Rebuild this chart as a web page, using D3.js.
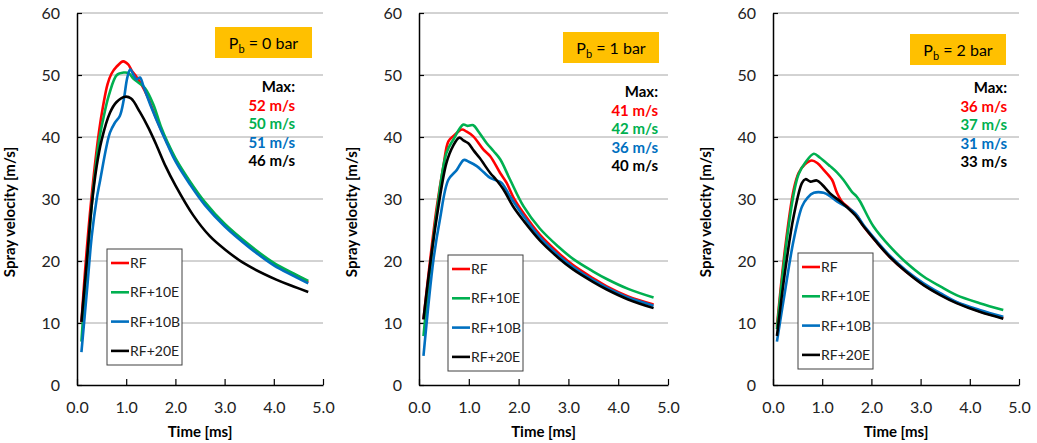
<!DOCTYPE html>
<html>
<head>
<meta charset="utf-8">
<script src="https://cdn.jsdelivr.net/npm/d3@7"></script>
<style>
  body { margin: 0; background: #fff; }
  svg { font-family: Lato, "Open Sans", sans-serif; }
</style>
</head>
<body>
<div id="chart"></div>
<script>
// series names + colours
const seriesNames = ["RF", "RF+10E", "RF+10B", "RF+20E"];
const seriesColors = ["#FF0000", "#00B050", "#0070C0", "#000000"];

const xTicks = [0, 1, 2, 3, 4, 5];
const yTicks = [0, 10, 20, 30, 40, 50, 60];

// Pb = 0 bar  [time ms, velocity m/s]
const p0_RF = [[0.09,10.1],[0.2,22],[0.33,33],[0.45,41],[0.53,45],[0.62,48.5],[0.7,50.2],[0.8,51.3],[0.94,52.2],[1.04,51.7],[1.12,50.6],[1.2,49.8],[1.3,48.6],[1.45,46.2],[1.6,43.2],[1.8,39.6],[2.0,36.4],[2.3,32.6],[2.6,29.3],[3.0,25.9],[3.5,22.4],[4.0,19.5],[4.4,17.9],[4.7,16.6]];
const p0_10E = [[0.09,7.0],[0.2,19.5],[0.33,31.5],[0.45,39.5],[0.53,42.8],[0.65,46.8],[0.81,50.0],[0.95,50.4],[1.05,50.3],[1.15,49.4],[1.28,48.6],[1.38,47.9],[1.55,45.3],[1.7,41.8],[1.85,39.0],[2.0,36.6],[2.3,32.8],[2.6,29.5],[3.0,26.0],[3.5,22.6],[4.0,19.7],[4.4,18.0],[4.7,16.8]];
const p0_10B = [[0.09,5.3],[0.2,15],[0.3,24],[0.4,30],[0.47,33],[0.6,38.5],[0.67,40.7],[0.77,42.3],[0.87,43.4],[0.95,46],[1.02,49.5],[1.08,50.9],[1.15,50.0],[1.21,49.3],[1.28,49.6],[1.35,48.2],[1.5,45.0],[1.7,41.2],[1.85,38.6],[2.0,36.1],[2.3,32.3],[2.6,29.0],[3.0,25.6],[3.5,22.2],[4.0,19.3],[4.4,17.6],[4.7,16.4]];
const p0_20E = [[0.09,10.2],[0.2,20],[0.3,29],[0.4,35.3],[0.5,39.5],[0.67,43.9],[0.8,45.6],[0.98,46.5],[1.1,46.2],[1.28,44.0],[1.45,41.5],[1.62,38.6],[1.8,35.3],[2.0,32.2],[2.36,27.4],[2.7,24.0],[3.0,21.9],[3.4,19.6],[4.05,17.0],[4.4,15.9],[4.7,15.0]];
const p0_max = ["52 m/s", "50 m/s", "51 m/s", "46 m/s"];

// Pb = 1 bar
const p1_RF = [[0.09,10.6],[0.2,18.5],[0.35,28.3],[0.49,35.3],[0.59,39.3],[0.7,40.2],[0.86,41.2],[0.95,40.9],[1.09,40.1],[1.29,38.0],[1.43,36.9],[1.63,34.2],[1.76,32.6],[1.9,30.2],[2.1,27.7],[2.43,24.2],[2.8,21.3],[3.1,19.3],[3.5,17.2],[3.77,15.9],[4.2,14.3],[4.71,13.0]];
const p1_10E = [[0.09,7.9],[0.2,17],[0.35,27.5],[0.55,37.4],[0.69,39.6],[0.89,42.0],[0.97,41.8],[1.09,41.9],[1.2,40.8],[1.36,39.0],[1.5,37.7],[1.63,36.4],[1.83,33.1],[2.1,28.8],[2.43,25.2],[2.8,22.3],[3.1,20.3],[3.5,18.3],[3.77,17.1],[4.2,15.5],[4.71,14.1]];
const p1_10B = [[0.09,4.7],[0.29,20.2],[0.42,26.7],[0.59,33.1],[0.76,34.7],[0.9,36.3],[1.0,36.0],[1.16,35.3],[1.3,34.3],[1.43,33.4],[1.55,33.0],[1.66,32.6],[1.83,30.4],[2.1,27.2],[2.43,23.8],[2.8,20.9],[3.1,19.0],[3.5,16.9],[3.77,15.7],[4.2,14.1],[4.71,12.8]];
const p1_20E = [[0.09,10.6],[0.2,18],[0.35,26.7],[0.55,35.8],[0.68,38.5],[0.81,39.9],[0.9,39.4],[0.99,39.0],[1.1,37.8],[1.22,36.6],[1.43,34.2],[1.55,33.1],[1.69,31.6],[1.89,28.8],[2.1,26.5],[2.43,23.3],[2.8,20.5],[3.1,18.6],[3.5,16.6],[3.77,15.4],[4.2,13.8],[4.71,12.4]];
const p1_max = ["41 m/s", "42 m/s", "36 m/s", "40 m/s"];

// Pb = 2 bar
const p2_RF = [[0.08,9.4],[0.25,22.3],[0.42,31.5],[0.52,34.2],[0.65,35.6],[0.79,36.2],[0.9,35.8],[1.03,34.7],[1.2,33.1],[1.3,31.0],[1.4,29.6],[1.55,28.5],[1.7,27.4],[1.84,25.6],[2.11,23.0],[2.38,20.6],[2.7,18.3],[3.06,16.2],[3.4,14.6],[3.73,13.3],[4.2,11.9],[4.68,10.8]];
const p2_10E = [[0.08,9.0],[0.25,21.5],[0.42,30.8],[0.52,34.0],[0.65,35.8],[0.83,37.3],[0.95,36.7],[1.16,35.3],[1.3,34.3],[1.43,33.1],[1.6,31.2],[1.7,30.4],[1.77,29.6],[2.04,25.6],[2.38,22.3],[2.7,19.8],[3.06,17.5],[3.4,15.9],[3.73,14.5],[4.2,13.2],[4.68,12.1]];
const p2_10B = [[0.08,7.0],[0.25,15.4],[0.42,23.4],[0.59,28.8],[0.7,30.2],[0.83,31.0],[1.03,31.0],[1.15,30.5],[1.3,29.6],[1.5,28.7],[1.67,27.7],[1.84,25.8],[2.11,23.2],[2.38,20.8],[2.7,18.5],[3.06,16.4],[3.4,14.8],[3.73,13.4],[4.2,12.1],[4.68,11.0]];
const p2_20E = [[0.08,7.9],[0.25,18.6],[0.42,27.2],[0.59,32.6],[0.66,33.2],[0.76,32.8],[0.89,33.0],[1.0,32.3],[1.16,30.9],[1.37,29.6],[1.5,28.7],[1.67,27.4],[1.84,25.6],[2.11,23.0],[2.38,20.6],[2.7,18.3],[3.06,16.1],[3.4,14.5],[3.73,13.2],[4.2,11.8],[4.68,10.7]];
const p2_max = ["36 m/s", "37 m/s", "31 m/s", "33 m/s"];

const panelPressure = ["0", "1", "2"];

// layout of each panel (pixels)
let panels = [
    { x0: 77,  x1: 323,  box: [215, 27, 97, 31],  maxX: 295,  maxY: 92, legend: [107, 249], series: [p0_RF, p0_10E, p0_10B, p0_20E], max: p0_max },
    { x0: 419, x1: 668,  box: [563, 32, 96, 31],  maxX: 658,  maxY: 97, legend: [448, 255], series: [p1_RF, p1_10E, p1_10B, p1_20E], max: p1_max },
    { x0: 773, x1: 1019, box: [910, 34, 96, 31],  maxX: 1007, maxY: 93, legend: [798, 253], series: [p2_RF, p2_10E, p2_10B, p2_20E], max: p2_max }
];

let width = 1037, height = 443;
let yTop = 13, yBottom = 385;

let svg = d3.select("#chart").append("svg")
    .attr("width", width)
    .attr("height", height);

panels.forEach((p, pi) => {
    let x = d3.scaleLinear().domain([0, 5]).range([p.x0, p.x1]);
    let y = d3.scaleLinear().domain([0, 60]).range([yBottom, yTop]);

    let g = svg.append("g");

    /* gridlines */
    g.append("g").selectAll("line")
        .data(yTicks.filter(d => d > 0)).enter()
        .append("line")
        .attr("x1", p.x0).attr("x2", p.x1)
        .attr("y1", d => y(d)).attr("y2", d => y(d))
        .attr("stroke", "#A6A6A6")
        .attr("stroke-width", 1);

    /* axes */
    let xAxis = d3.axisBottom(x).tickValues(xTicks).tickFormat(d3.format(".1f"))
        .tickSizeInner(-6).tickSizeOuter(0).tickPadding(17);
    let yAxis = d3.axisLeft(y).tickValues(yTicks)
        .tickSizeInner(-5).tickSizeOuter(0).tickPadding(17);

    let gx = g.append("g").attr("transform", `translate(0, ${yBottom})`).call(xAxis);
    let gy = g.append("g").attr("transform", `translate(${p.x0}, 0)`).call(yAxis);

    [gx, gy].forEach(a => {
        a.select(".domain").attr("stroke", "#000").attr("stroke-width", 1.5);
        a.selectAll(".tick line").attr("stroke", "#000").attr("stroke-width", 1.2);
        a.selectAll(".tick text").attr("font-size", 16).attr("fill", "#222")
            .attr("font-family", "Lato, 'Open Sans', sans-serif");
    });

    /* axis titles */
    g.append("text")
        .attr("transform", `translate(${p.x0 - 62}, 212) rotate(-90)`)
        .attr("text-anchor", "middle")
        .attr("font-size", 15).attr("font-weight", "bold")
        .text("Spray velocity [m/s]");

    g.append("text")
        .attr("x", (p.x0 + p.x1) / 2).attr("y", 437)
        .attr("text-anchor", "middle")
        .attr("font-size", 15).attr("font-weight", "bold")
        .text("Time [ms]");

    /* lines */
    let line = d3.line()
        .x(d => x(d[0]))
        .y(d => y(d[1]))
        .curve(d3.curveCatmullRom.alpha(0.5));

    g.append("g").selectAll("path")
        .data(p.series).enter()
        .append("path")
        .attr("d", d => line(d))
        .attr("fill", "none")
        .attr("stroke", (d, i) => seriesColors[i])
        .attr("stroke-width", 2.6)
        .attr("stroke-linejoin", "round");

    /* pressure box */
    g.append("rect")
        .attr("x", p.box[0]).attr("y", p.box[1])
        .attr("width", p.box[2]).attr("height", p.box[3])
        .attr("fill", "#FFC000");

    let bt = g.append("text")
        .attr("x", p.box[0] + p.box[2] / 2)
        .attr("y", p.box[1] + p.box[3] / 2 + 6)
        .attr("text-anchor", "middle")
        .attr("font-size", 16)
        .attr("fill", "#000");
    bt.append("tspan").text("P");
    bt.append("tspan").attr("font-size", 11).attr("dy", 4).text("b");
    bt.append("tspan").attr("dy", -4).text(" = " + panelPressure[pi] + " bar");

    /* max labels */
    g.append("text")
        .attr("x", p.maxX).attr("y", p.maxY)
        .attr("text-anchor", "end")
        .attr("font-size", 15).attr("font-weight", "bold")
        .text("Max:");

    g.append("g").selectAll("text")
        .data(p.max).enter()
        .append("text")
        .attr("x", p.maxX)
        .attr("y", (d, i) => p.maxY + 18.6 * (i + 1))
        .attr("text-anchor", "end")
        .attr("font-size", 15).attr("font-weight", "bold")
        .attr("fill", (d, i) => seriesColors[i])
        .text(d => d);

    /* legend */
    let lg = g.append("g").attr("transform", `translate(${p.legend[0]}, ${p.legend[1]})`);
    lg.append("rect")
        .attr("width", 75).attr("height", 116)
        .attr("fill", "#fff")
        .attr("stroke", "#404040")
        .attr("stroke-width", 1);

    let items = lg.selectAll(".item")
        .data(seriesNames).enter()
        .append("g")
        .attr("transform", (d, i) => `translate(0, ${14 + i * 29.3})`);

    items.append("line")
        .attr("x1", 4).attr("x2", 22)
        .attr("stroke", (d, i) => seriesColors[i])
        .attr("stroke-width", 2.6);

    items.append("text")
        .attr("x", 23).attr("y", 5)
        .attr("font-size", 14)
        .attr("fill", "#222")
        .text(d => d);
});
</script>
</body>
</html>
